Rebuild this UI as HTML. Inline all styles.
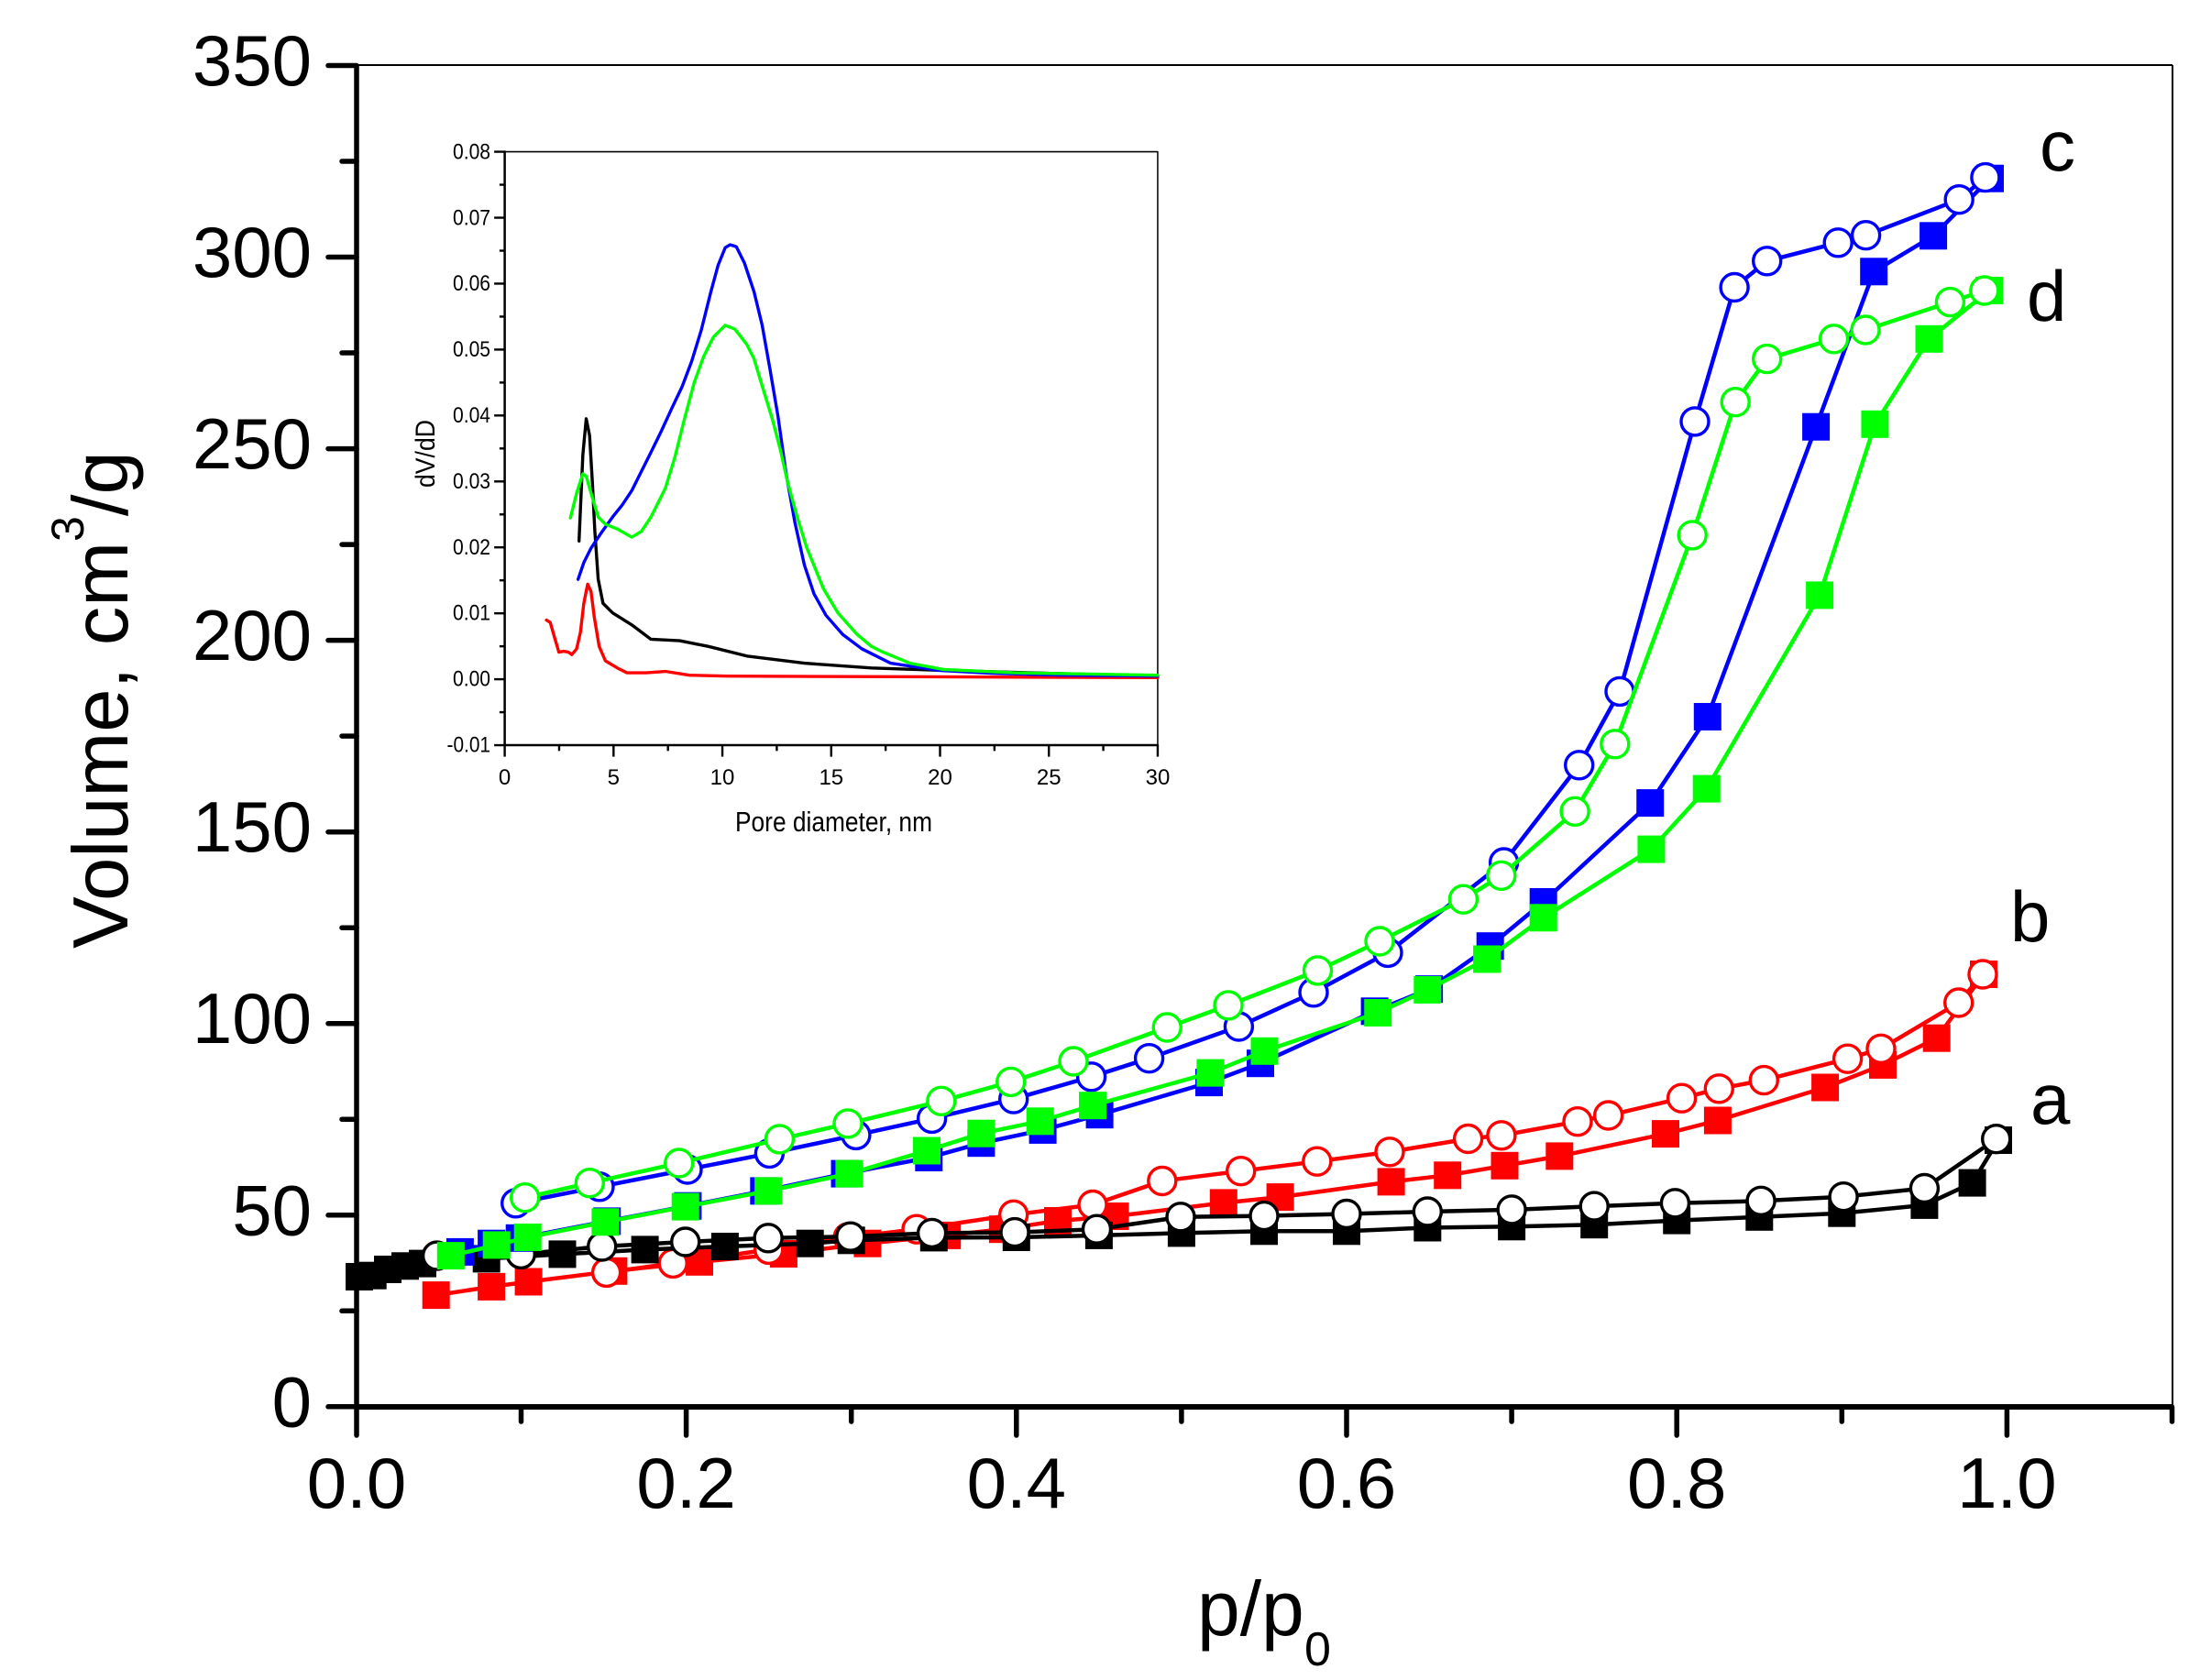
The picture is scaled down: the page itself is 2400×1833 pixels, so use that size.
<!DOCTYPE html>
<html>
<head>
<meta charset="utf-8">
<style>
html,body{margin:0;padding:0;background:#fff;}
svg{display:block;}
text{font-family:"Liberation Sans",Arial,sans-serif;fill:#000;}
</style>
</head>
<body>
<svg xmlns="http://www.w3.org/2000/svg" width="2400" height="1833" viewBox="0 0 2400 1833">
<defs>
<marker id="sR" markerUnits="userSpaceOnUse" markerWidth="40" markerHeight="40" refX="20" refY="20" overflow="visible"><rect x="5" y="5" width="30" height="30" fill="#ff0000"/></marker>
<marker id="cR" markerUnits="userSpaceOnUse" markerWidth="40" markerHeight="40" refX="20" refY="20" overflow="visible"><circle cx="20" cy="20" r="15" fill="#fff" stroke="#ff0000" stroke-width="3.4"/></marker>
<marker id="sK" markerUnits="userSpaceOnUse" markerWidth="40" markerHeight="40" refX="20" refY="20" overflow="visible"><rect x="5" y="5" width="30" height="30" fill="#000"/></marker>
<marker id="cK" markerUnits="userSpaceOnUse" markerWidth="40" markerHeight="40" refX="20" refY="20" overflow="visible"><circle cx="20" cy="20" r="15" fill="#fff" stroke="#000" stroke-width="3.4"/></marker>
<marker id="sB" markerUnits="userSpaceOnUse" markerWidth="40" markerHeight="40" refX="20" refY="20" overflow="visible"><rect x="5" y="5" width="30" height="30" fill="#0000ff"/></marker>
<marker id="cB" markerUnits="userSpaceOnUse" markerWidth="40" markerHeight="40" refX="20" refY="20" overflow="visible"><circle cx="20" cy="20" r="15" fill="#fff" stroke="#0000ff" stroke-width="3.4"/></marker>
<marker id="sG" markerUnits="userSpaceOnUse" markerWidth="40" markerHeight="40" refX="20" refY="20" overflow="visible"><rect x="5" y="5" width="30" height="30" fill="#00ff00"/></marker>
<marker id="cG" markerUnits="userSpaceOnUse" markerWidth="40" markerHeight="40" refX="20" refY="20" overflow="visible"><circle cx="20" cy="20" r="15" fill="#fff" stroke="#00ff00" stroke-width="3.4"/></marker>
</defs>

<rect x="0" y="0" width="2400" height="1833" fill="#fff"/>

<!-- ===== Main frame ===== -->
<g stroke="#000" fill="none">
  <line x1="389" y1="71" x2="2370" y2="71" stroke-width="2"/>
  <line x1="2370" y1="71" x2="2370" y2="1535" stroke-width="2"/>
  <line x1="389" y1="71" x2="389" y2="1535" stroke-width="5.5"/>
  <line x1="389" y1="1535" x2="2370" y2="1535" stroke-width="6"/>
</g>
<!-- Y ticks -->
<g stroke="#000" stroke-width="5.5" stroke-linecap="round">
  <line x1="358" y1="1534.8" x2="389" y2="1534.8"/>
  <line x1="358" y1="1325.8" x2="389" y2="1325.8"/>
  <line x1="358" y1="1116.7" x2="389" y2="1116.7"/>
  <line x1="358" y1="907.7" x2="389" y2="907.7"/>
  <line x1="358" y1="698.6" x2="389" y2="698.6"/>
  <line x1="358" y1="489.6" x2="389" y2="489.6"/>
  <line x1="358" y1="280.5" x2="389" y2="280.5"/>
  <line x1="358" y1="71.5" x2="389" y2="71.5"/>
  <line x1="373" y1="1430.3" x2="389" y2="1430.3"/>
  <line x1="373" y1="1221.2" x2="389" y2="1221.2"/>
  <line x1="373" y1="1012.2" x2="389" y2="1012.2"/>
  <line x1="373" y1="803.1" x2="389" y2="803.1"/>
  <line x1="373" y1="594.1" x2="389" y2="594.1"/>
  <line x1="373" y1="385.0" x2="389" y2="385.0"/>
  <line x1="373" y1="176.0" x2="389" y2="176.0"/>
</g>
<!-- X ticks -->
<g stroke="#000" stroke-width="5.5" stroke-linecap="round">
  <line x1="389" y1="1535" x2="389" y2="1566"/>
  <line x1="748.6" y1="1535" x2="748.6" y2="1566"/>
  <line x1="1108.8" y1="1535" x2="1108.8" y2="1566"/>
  <line x1="1469" y1="1535" x2="1469" y2="1566"/>
  <line x1="1829.2" y1="1535" x2="1829.2" y2="1566"/>
  <line x1="2189.4" y1="1535" x2="2189.4" y2="1566"/>
  <line x1="568.5" y1="1535" x2="568.5" y2="1551"/>
  <line x1="928.7" y1="1535" x2="928.7" y2="1551"/>
  <line x1="1288.9" y1="1535" x2="1288.9" y2="1551"/>
  <line x1="1649.1" y1="1535" x2="1649.1" y2="1551"/>
  <line x1="2009.3" y1="1535" x2="2009.3" y2="1551"/>
  <line x1="2369.5" y1="1535" x2="2369.5" y2="1551"/>
</g>

<!-- Y tick labels -->
<g font-size="78" text-anchor="end">
  <text x="340" y="1556.3">0</text>
  <text x="340" y="1347.3">50</text>
  <text x="340" y="1138.2">100</text>
  <text x="340" y="929.2">150</text>
  <text x="340" y="720.1">200</text>
  <text x="340" y="511.1">250</text>
  <text x="340" y="302">300</text>
  <text x="340" y="93">350</text>
</g>
<!-- X tick labels -->
<g font-size="78" text-anchor="middle">
  <text x="389" y="1645">0.0</text>
  <text x="748.6" y="1645">0.2</text>
  <text x="1108.8" y="1645">0.4</text>
  <text x="1469" y="1645">0.6</text>
  <text x="1829.2" y="1645">0.8</text>
  <text x="2189.4" y="1645">1.0</text>
</g>

<!-- Axis titles -->
<text x="1306" y="1784" font-size="84">p/p</text>
<text x="1423" y="1817" font-size="52">0</text>
<text transform="translate(139,1035) rotate(-90)" font-size="85">Volume, cm<tspan font-size="50" dy="-48">3</tspan><tspan dy="48">/g</tspan></text>

<!-- Series labels -->
<g font-size="78">
  <text x="2225" y="186">c</text>
  <text x="2211" y="350">d</text>
  <text x="2193" y="1027">b</text>
  <text x="2215" y="1226">a</text>
</g>

<!-- ===== Data series ===== -->
<g fill="none" stroke-width="4.5" stroke-linejoin="round">
<!-- red (b) -->
<polyline stroke="#ff0000" marker-start="url(#sR)" marker-mid="url(#sR)" marker-end="url(#sR)" points="475.7,1413.1 536.1,1403.9 576.6,1398.5 669.4,1386.8 763.0,1376.8 854.9,1368.0 946.4,1356.7 1033.2,1347.9 1093.9,1341.2 1154.0,1332.0 1216.5,1327.0 1334.8,1312.4 1396.6,1306.1 1517.6,1289.4 1579.2,1282.3 1641.5,1271.8 1701.3,1261.4 1817.0,1237.1 1873.9,1222.5 1991.1,1186.5 2054.0,1161.9 2112.7,1132.7 2164,1063"/>
<polyline stroke="#ff0000" marker-start="url(#cR)" marker-mid="url(#cR)" marker-end="url(#cR)" points="2163,1063 2136.7,1094 2052.0,1144.3 2015.6,1155.2 1924.3,1178.6 1875.3,1187.8 1834.6,1198.2 1754.6,1217.0 1721.0,1223.7 1637.9,1238.8 1601.6,1242.5 1516.0,1256.8 1436.8,1267.2 1353.7,1277.7 1267.8,1288.5 1192.0,1314.5 1105.7,1325.3 1000.0,1341.2 925.1,1350.0 838.7,1363.4 734.2,1378.4 661.6,1388.4"/>
<!-- black (a) -->
<polyline stroke="#000" marker-start="url(#sK)" marker-mid="url(#sK)" marker-end="url(#sK)" points="392,1393 406.7,1391.7 423,1385 442,1381.3 461,1378.6 530.7,1373.4 613.5,1368.4 703.6,1363.4 790.9,1360.0 883.7,1356.7 928.7,1353.3 1018.8,1350.4 1108.8,1350.0 1198.9,1347.9 1288.9,1345.4 1379.0,1343.3 1469.0,1343.3 1557.3,1339.5 1649.1,1338.3 1739.2,1336.2 1829.2,1331.6 1919.3,1327.8 2009.3,1323.7 2099.4,1314.9 2151.6,1290.6 2180,1244"/>
<polyline stroke="#000" marker-start="url(#cK)" marker-mid="url(#cK)" marker-end="url(#cK)" points="2177.7,1242.7 2099.4,1296.5 2011.1,1305.7 1921.1,1310.3 1827.4,1312.8 1739.2,1316.1 1649.1,1319.9 1557.3,1322.0 1469.0,1324.5 1379.0,1326.6 1288.0,1327.8 1196.5,1341.2 1107.0,1344.6 1016.6,1345.4 927.8,1349.2 838.1,1350.8 747.7,1355.0 656.7,1360.0 568.3,1368.4 476.6,1370.1"/>
<!-- blue (c) -->
<polyline stroke="#0000ff" marker-start="url(#sB)" marker-mid="url(#sB)" marker-end="url(#sB)" points="501.9,1365.9 536.1,1356.7 566.7,1350.8 662.2,1332.4 750.4,1315.7 833.3,1299.4 921.5,1280.6 1013.3,1263.0 1070.4,1247.2 1137.6,1232.9 1199.6,1216.2 1319.0,1181.1 1375.0,1160.2 1499.6,1103.3 1559.1,1079.1 1625.7,1032.2 1683.7,984.0 1800.2,876.1 1862.8,782.0 1981.1,465.7 2044.2,296.3 2109.1,257.3 2171,194.7"/>
<polyline stroke="#0000ff" marker-start="url(#cB)" marker-mid="url(#cB)" marker-end="url(#cB)" points="2165.9,193.6 2137.2,217.7 2035.6,256.7 2005.2,264.8 1927.7,284.8 1892.1,313.5 1849.0,459.9 1767.0,754.4 1722.7,834.8 1640.6,941.0 1514.0,1039.4 1433.0,1082.8 1351.4,1120.0 1253.6,1154.7 1190.6,1174.8 1105.7,1199.1 1016.6,1220.4 933.9,1238.4 839.4,1258.4 750.0,1276.0 654.0,1294.8 562.7,1312.8"/>
<!-- green (d) -->
<polyline stroke="#00ff00" marker-start="url(#sG)" marker-mid="url(#sG)" marker-end="url(#sG)" points="491.8,1370.1 541.7,1358.4 575.7,1350.0 660.4,1333.3 747.7,1316.6 838.1,1299.4 926.4,1280.6 1011.0,1255.5 1070.4,1236.7 1134.7,1223.3 1192.0,1206.2 1320.4,1170.6 1379.5,1146.8 1503.2,1105.0 1557.3,1079.9 1622.1,1046.5 1683.7,1001.3 1801.4,926.6 1861.7,860.6 1985.1,649.4 2045.4,462.8 2104.5,369.8 2170,317"/>
<polyline stroke="#00ff00" marker-start="url(#cG)" marker-mid="url(#cG)" marker-end="url(#cG)" points="2164.8,317.0 2127.4,329.6 2035.0,360.0 2000.6,369.8 1927.7,391.6 1893.2,438.7 1846.2,583.9 1761.8,811.8 1718.1,885.3 1637.8,955.3 1596.4,981.2 1505,1027 1437.5,1058.9 1340,1096.9 1273.2,1121 1171,1158 1102.7,1180.4 1026.8,1201.3 925,1225.9 850.4,1242.9 740.7,1269 643.3,1290.7 572.7,1306.7"/>
</g>

<!-- ===== Inset ===== -->
<g transform="translate(480,130) scale(0.52301)" fill="none" stroke-linejoin="round" stroke-linecap="round">
  <path d="M135,68 H1497 V1306" stroke="#000" stroke-width="2.9"/>
  <path d="M135,68 V1306 H1497" stroke="#000" stroke-width="4.8"/>
  <g stroke="#000" stroke-width="4.6" stroke-linecap="butt">
    <line x1="113" y1="68" x2="135" y2="68"/>
    <line x1="113" y1="205.6" x2="135" y2="205.6"/>
    <line x1="113" y1="343.1" x2="135" y2="343.1"/>
    <line x1="113" y1="480.7" x2="135" y2="480.7"/>
    <line x1="113" y1="618.2" x2="135" y2="618.2"/>
    <line x1="113" y1="755.8" x2="135" y2="755.8"/>
    <line x1="113" y1="893.3" x2="135" y2="893.3"/>
    <line x1="113" y1="1030.9" x2="135" y2="1030.9"/>
    <line x1="113" y1="1168.4" x2="135" y2="1168.4"/>
    <line x1="113" y1="1306" x2="135" y2="1306"/>
    <line x1="124" y1="136.8" x2="135" y2="136.8"/>
    <line x1="124" y1="274.4" x2="135" y2="274.4"/>
    <line x1="124" y1="411.9" x2="135" y2="411.9"/>
    <line x1="124" y1="549.5" x2="135" y2="549.5"/>
    <line x1="124" y1="687" x2="135" y2="687"/>
    <line x1="124" y1="824.6" x2="135" y2="824.6"/>
    <line x1="124" y1="962.1" x2="135" y2="962.1"/>
    <line x1="124" y1="1099.7" x2="135" y2="1099.7"/>
    <line x1="124" y1="1237.2" x2="135" y2="1237.2"/>
    <line x1="135" y1="1306" x2="135" y2="1330"/>
    <line x1="362" y1="1306" x2="362" y2="1330"/>
    <line x1="589" y1="1306" x2="589" y2="1330"/>
    <line x1="816" y1="1306" x2="816" y2="1330"/>
    <line x1="1043" y1="1306" x2="1043" y2="1330"/>
    <line x1="1270" y1="1306" x2="1270" y2="1330"/>
    <line x1="1497" y1="1306" x2="1497" y2="1330"/>
    <line x1="248.5" y1="1306" x2="248.5" y2="1318"/>
    <line x1="475.5" y1="1306" x2="475.5" y2="1318"/>
    <line x1="702.5" y1="1306" x2="702.5" y2="1318"/>
    <line x1="929.5" y1="1306" x2="929.5" y2="1318"/>
    <line x1="1156.5" y1="1306" x2="1156.5" y2="1318"/>
    <line x1="1383.5" y1="1306" x2="1383.5" y2="1318"/>
  </g>
  <g stroke-width="6.5">
    <polyline stroke="#000" points="290,880 298,700 305,625 312,660 318,760 323,860 330,960 340,1010 360,1030 400,1055 440,1085 500,1088 560,1100 640,1120 760,1135 900,1145 1050,1150 1497,1162"/>
    <polyline stroke="#ff0000" points="222,1045 230,1050 240,1085 248,1112 258,1110 268,1112 275,1117 285,1105 293,1070 300,1010 308,970 315,985 322,1040 332,1100 345,1130 370,1145 390,1155 430,1155 470,1152 520,1160 600,1162 1497,1165"/>
    <polyline stroke="#0000ff" points="288,960 300,925 315,895 335,865 360,830 380,805 400,775 420,735 440,695 462,650 485,600 505,558 525,505 545,440 565,360 580,305 595,268 605,262 618,266 635,300 655,360 672,430 688,520 705,620 722,740 740,840 760,930 780,990 805,1035 840,1075 880,1105 940,1135 1040,1150 1150,1156 1300,1160 1497,1162"/>
    <polyline stroke="#00ff00" points="272,832 285,780 298,740 305,745 315,780 330,830 345,845 370,855 400,872 420,860 440,830 470,770 490,705 510,625 530,550 550,495 570,455 595,430 615,438 640,470 655,500 670,550 693,625 710,690 725,757 745,830 765,894 800,980 830,1030 870,1075 900,1100 920,1110 980,1135 1050,1148 1200,1155 1497,1160"/>
  </g>
</g>
<!-- Inset labels -->
<g font-size="24" text-anchor="end">
  <text x="535" y="173.5" textLength="41" lengthAdjust="spacingAndGlyphs">0.08</text>
  <text x="535" y="245.3" textLength="41" lengthAdjust="spacingAndGlyphs">0.07</text>
  <text x="535" y="317.2" textLength="41" lengthAdjust="spacingAndGlyphs">0.06</text>
  <text x="535" y="389.1" textLength="41" lengthAdjust="spacingAndGlyphs">0.05</text>
  <text x="535" y="461" textLength="41" lengthAdjust="spacingAndGlyphs">0.04</text>
  <text x="535" y="532.9" textLength="41" lengthAdjust="spacingAndGlyphs">0.03</text>
  <text x="535" y="604.8" textLength="41" lengthAdjust="spacingAndGlyphs">0.02</text>
  <text x="535" y="676.7" textLength="41" lengthAdjust="spacingAndGlyphs">0.01</text>
  <text x="535" y="748.6" textLength="41" lengthAdjust="spacingAndGlyphs">0.00</text>
  <text x="535" y="820.5" textLength="47.5" lengthAdjust="spacingAndGlyphs">-0.01</text>
</g>
<g font-size="24" text-anchor="middle">
  <text x="550.6" y="856">0</text>
  <text x="669.3" y="856">5</text>
  <text x="788" y="856">10</text>
  <text x="906.8" y="856">15</text>
  <text x="1025.5" y="856">20</text>
  <text x="1144.2" y="856">25</text>
  <text x="1263" y="856">30</text>
</g>
<text x="802" y="907" font-size="31" textLength="215" lengthAdjust="spacingAndGlyphs">Pore diameter, nm</text>
<text transform="translate(474,532) rotate(-90)" font-size="30" textLength="74" lengthAdjust="spacingAndGlyphs">dV/dD</text>
</svg>
</body>
</html>
